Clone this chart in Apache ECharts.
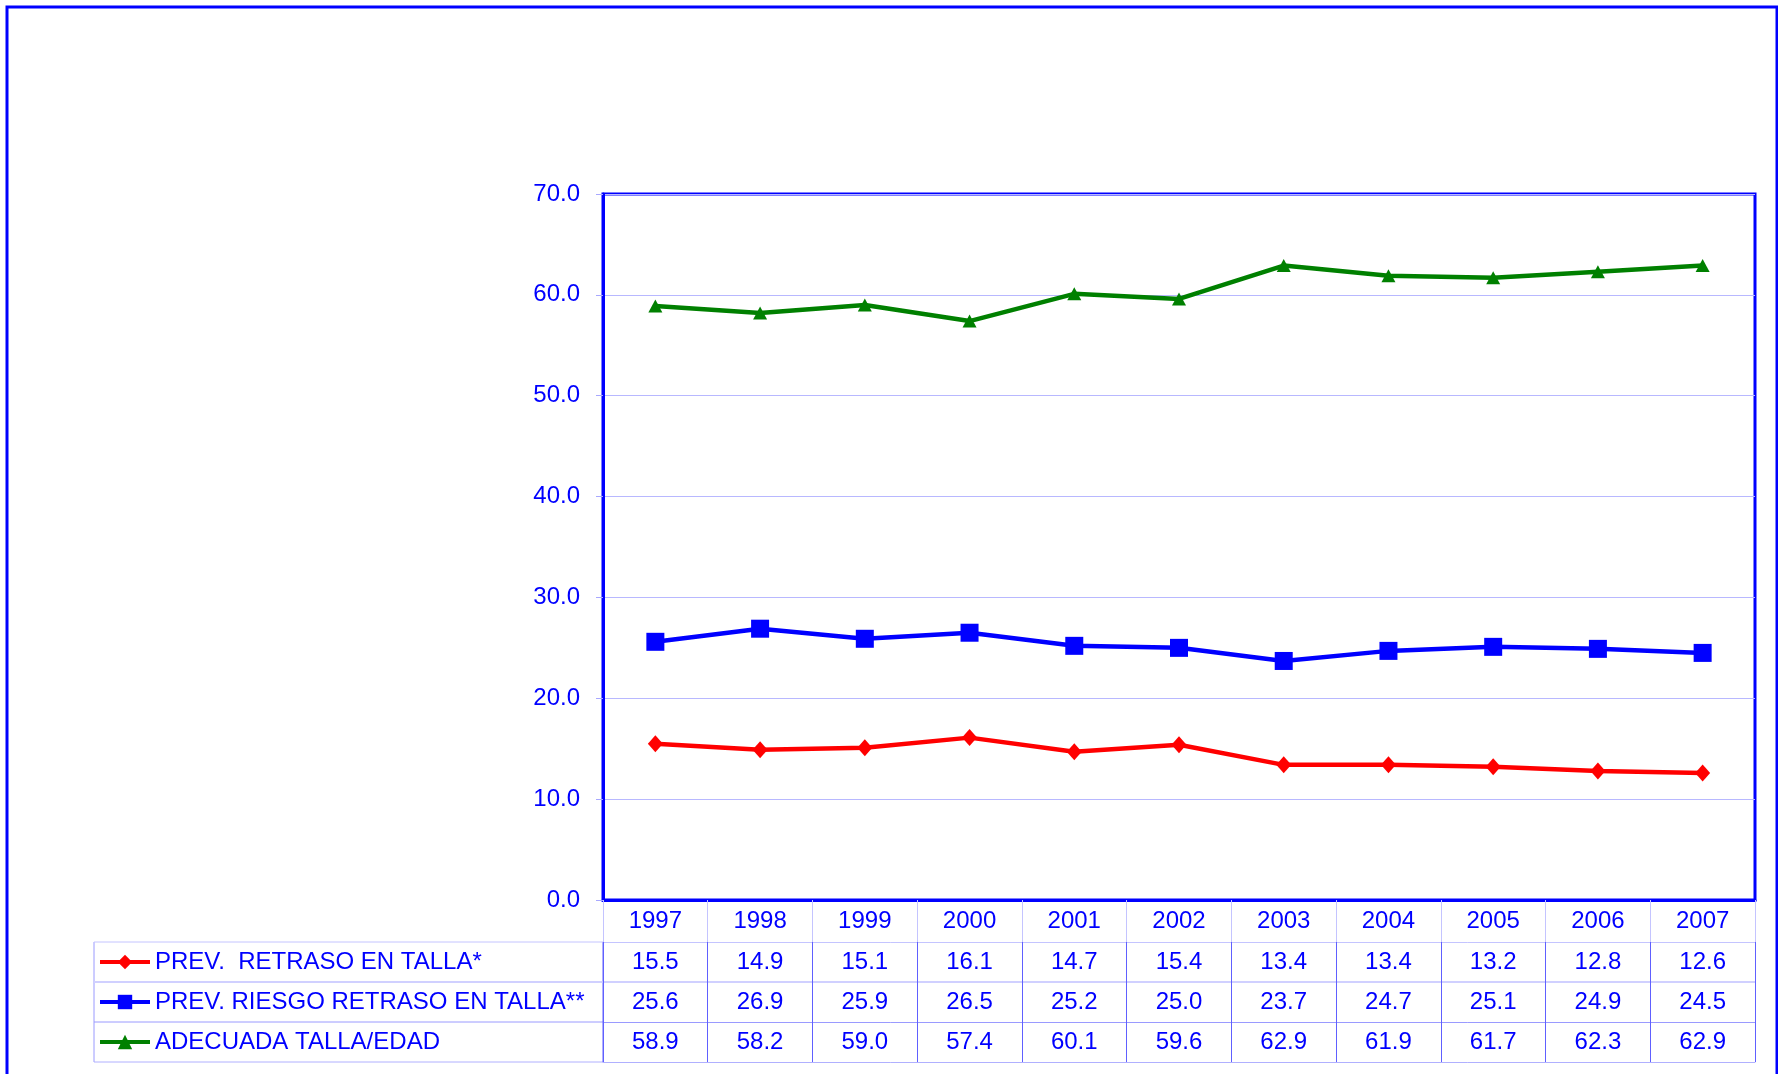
<!DOCTYPE html>
<html>
<head>
<meta charset="utf-8">
<script src="https://cdn.jsdelivr.net/npm/echarts@6/dist/echarts.min.js"></script>
<style>
html,body{margin:0;padding:0;background:#fff;}
#c{width:1778px;height:1074px;}
</style>
</head>
<body>
<div id="c"></div>
<script>
// ---- data ----
var years = ['1997','1998','1999','2000','2001','2002','2003','2004','2005','2006','2007'];
var seriesNames = ['PREV.  RETRASO EN TALLA*', 'PREV. RIESGO RETRASO EN TALLA**', 'ADECUADA TALLA/EDAD'];
var retraso = [15.5, 14.9, 15.1, 16.1, 14.7, 15.4, 13.4, 13.4, 13.2, 12.8, 12.6];
var riesgo  = [25.6, 26.9, 25.9, 26.5, 25.2, 25.0, 23.7, 24.7, 25.1, 24.9, 24.5];
var adecuada = [58.9, 58.2, 59.0, 57.4, 60.1, 59.6, 62.9, 61.9, 61.7, 62.3, 62.9];
var yTicks = [0, 10, 20, 30, 40, 50, 60, 70];

// ---- layout / style ----
var W = 1778, H = 1074;
var GL = 603, GT = 194, GR = 23, GB = 174;   // grid
var HEAD_H = 42, ROW_H = 40;
var FONT = '"Liberation Sans", Arial, sans-serif';
var BLUE = '#0000ff';
var FS = 24;

var chart = echarts.init(document.getElementById('c'), null, {renderer: 'canvas'});

var rows = [retraso, riesgo, adecuada];
var rowLineColors = ['#c4c4ff', '#d0d0ff', '#9a9aff', '#b0b0ff'];

var xAxes = [{
  type: 'category', data: years, position: 'bottom', boundaryGap: true, gridIndex: 0,
  axisLine: {show: true, lineStyle: {color: BLUE, width: 3}},
  axisTick: {show: true, interval: 0, length: HEAD_H, lineStyle: {color: '#c4c4ff', width: 1}},
  axisLabel: {interval: 0, color: BLUE, fontSize: FS, fontFamily: FONT, margin: 21, verticalAlign: 'middle'},
  splitLine: {show: false}
}];
rows.forEach(function (vals, i) {
  xAxes.push({
    type: 'category', data: years, position: 'bottom', boundaryGap: true, gridIndex: 0,
    offset: HEAD_H + i * ROW_H,
    axisLine: {show: true, lineStyle: {color: rowLineColors[i], width: i === 1 ? 2 : 1}},
    axisTick: {show: true, interval: 0, length: ROW_H, lineStyle: {color: '#6060ff', width: 1}},
    axisLabel: {interval: 0, color: BLUE, fontSize: FS, fontFamily: FONT, margin: 20, verticalAlign: 'middle',
      formatter: (function (v) { return function (val, idx) { return v[idx].toFixed(1); }; })(vals)},
    splitLine: {show: false}
  });
});
xAxes.push({
  type: 'category', data: years, position: 'bottom', boundaryGap: true, gridIndex: 0,
  offset: HEAD_H + 3 * ROW_H,
  axisLine: {show: true, lineStyle: {color: rowLineColors[3], width: 1}},
  axisTick: {show: false}, axisLabel: {show: false}, splitLine: {show: false}
});

var tableTop = H - GB + HEAD_H;
var tableLeft = 94;
var graphics = [{
  type: 'rect', silent: true, z: 100,
  shape: {x: 7, y: 7, width: W - 8, height: H + 20},
  style: {fill: 'none', stroke: BLUE, lineWidth: 3}
}, {
  type: 'line', silent: true,
  shape: {x1: tableLeft, y1: tableTop, x2: tableLeft, y2: tableTop + 3 * ROW_H},
  style: {stroke: '#9a9aff', lineWidth: 1}
}];
for (var r = 0; r <= 3; r++) {
  graphics.push({
    type: 'line', silent: true,
    shape: {x1: tableLeft, y1: tableTop + r * ROW_H, x2: GL, y2: tableTop + r * ROW_H},
    style: {stroke: rowLineColors[r], lineWidth: r === 1 ? 2 : 1}
  });
}
graphics.push({
  type: 'line', silent: true,
  shape: {x1: GL, y1: tableTop, x2: GL, y2: tableTop + 3 * ROW_H},
  style: {stroke: '#6060ff', lineWidth: 1}
});

var option = {
  backgroundColor: '#ffffff',
  animation: false,
  grid: {left: GL, top: GT, right: GR, bottom: GB, show: true, borderColor: BLUE, borderWidth: 3, backgroundColor: 'transparent'},
  legend: {
    orient: 'vertical', left: 98, top: tableTop + ROW_H / 2 - 12, padding: 0,
    itemWidth: 50, itemHeight: 18, itemGap: ROW_H - 24,
    lineStyle: {width: 4},
    textStyle: {color: BLUE, fontSize: FS, fontFamily: FONT, lineHeight: 24},
    data: seriesNames
  },
  xAxis: xAxes,
  yAxis: {
    type: 'value', min: yTicks[0], max: yTicks[yTicks.length - 1], interval: 10,
    axisLine: {show: true, lineStyle: {color: BLUE, width: 3}},
    axisTick: {show: true, length: 7, lineStyle: {color: '#a8a8ff'}},
    axisLabel: {color: BLUE, fontSize: FS, fontFamily: FONT, margin: 23, formatter: function (v) { return v.toFixed(1); }},
    splitLine: {show: true, lineStyle: {color: '#b8b8ff', width: 1}}
  },
  series: [{
    name: seriesNames[0], type: 'line', data: retraso, xAxisIndex: 0,
    symbol: 'diamond', symbolSize: [15, 17],
    lineStyle: {color: '#ff0000', width: 4.5}, itemStyle: {color: '#ff0000'}
  }, {
    name: seriesNames[1], type: 'line', data: riesgo, xAxisIndex: 0,
    symbol: 'rect', symbolSize: 18,
    lineStyle: {color: '#0000ff', width: 4.5}, itemStyle: {color: '#0000ff'}
  }, {
    name: seriesNames[2], type: 'line', data: adecuada, xAxisIndex: 0,
    symbol: 'triangle', symbolSize: [14, 13],
    lineStyle: {color: '#008000', width: 4.5}, itemStyle: {color: '#008000'}
  }],
  graphic: graphics
};
chart.setOption(option);
</script>
</body>
</html>
